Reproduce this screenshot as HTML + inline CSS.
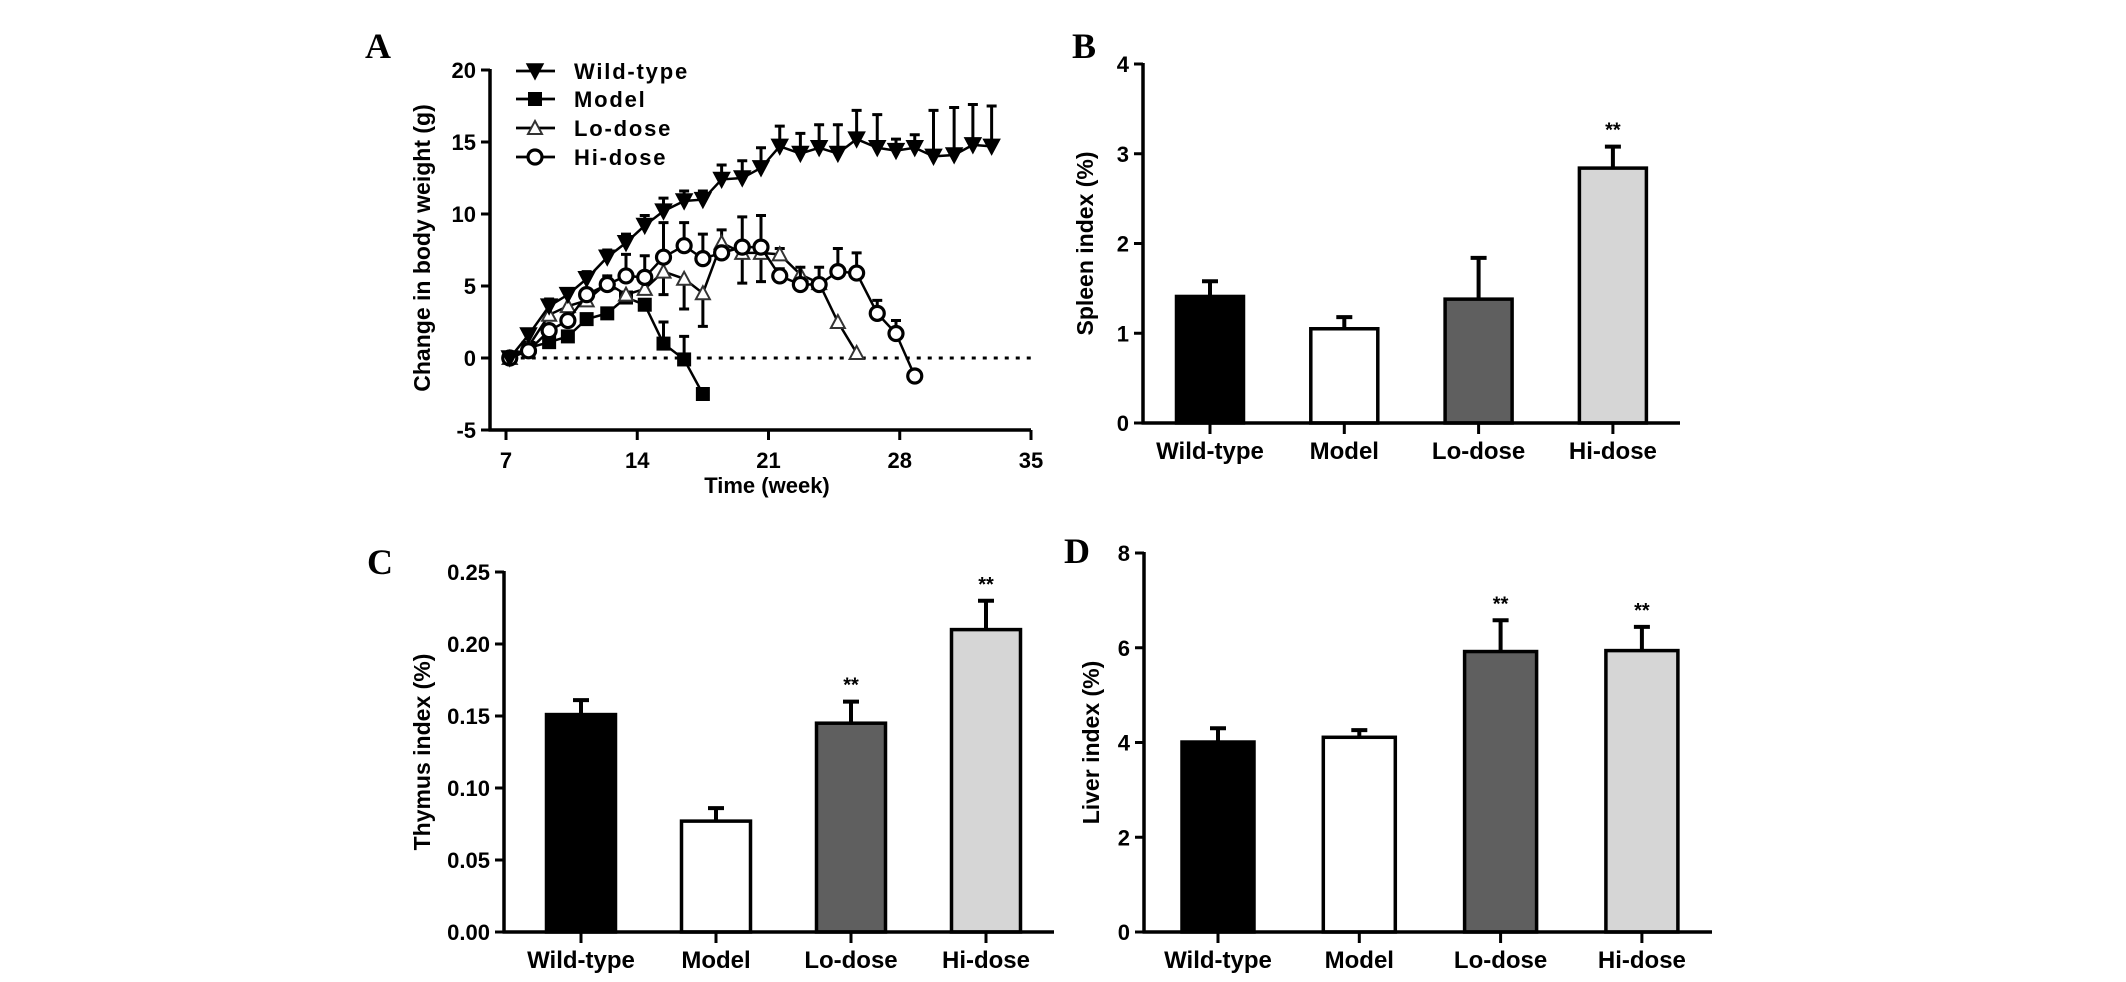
<!DOCTYPE html>
<html><head><meta charset="utf-8">
<style>
html,body{margin:0;padding:0;background:#fff;}
svg{display:block;}
text{font-family:"Liberation Sans",Arial,sans-serif;font-weight:bold;fill:#000;}
.panel-letter{font-family:"Liberation Serif",serif;font-size:36px;font-weight:bold;}
</style></head>
<body>
<svg id="fig" width="2126" height="982" viewBox="0 0 2126 982" xmlns="http://www.w3.org/2000/svg"></svg>
<script>
// ---------- Panel A data ----------
const weeksA = [7.2,8.2,9.3,10.3,11.3,12.4,13.4,14.4,15.4,16.5,17.5,18.5,19.6,20.6,21.6,22.7,23.7,24.7,25.7,26.8,27.8,28.8,29.8,30.9,31.9,32.9];
const wildValues = [0,1.6,3.6,4.4,5.5,7.0,8.0,9.2,10.2,10.9,11.0,12.4,12.5,13.2,14.7,14.2,14.6,14.2,15.2,14.6,14.4,14.6,14.0,14.1,14.8,14.7];
const wildErrUp = [0,0.3,0.5,0.4,0.5,0.5,0.6,0.7,0.9,0.7,0.6,1.0,1.2,1.4,1.4,1.4,1.6,2.0,2.0,2.3,0.8,0.9,3.2,3.3,2.8,2.8];
const modelValues = [0,0.7,1.1,1.5,2.7,3.1,4.2,3.7,1.0,-0.1,-2.5];
const modelErrUp = [0,0,0,0,0,0,0,0,1.5,1.6,0];
const loValues = [0,0.8,3.0,3.6,4.0,5.2,4.4,4.8,6.0,5.5,4.5,8.0,7.3,7.3,7.2,5.8,5.2,2.5,0.35];
const loErrDown = [0,0,0,0,0,0,0,0,1.6,2.1,2.3,0,2.1,2.0,0,0,0,0,0];
const loErrUp = [0,0,0,0,0,0,0,0,0,0,0,0.9,0,0,0.4,0,0,0,0];
const hiValues = [0,0.5,1.9,2.6,4.4,5.1,5.7,5.6,7.0,7.8,6.9,7.3,7.7,7.7,5.7,5.1,5.1,6.0,5.9,3.1,1.7,-1.25];
const hiErrUp = [0,0,0,0,0.3,0.6,1.5,1.5,2.4,1.6,1.7,0.3,2.1,2.2,0.5,1.2,1.2,1.6,1.4,0.9,0.9,0];
const yTicksA = [-5,0,5,10,15,20];
const xTicksA = [7,14,21,28,35];
const legendLabels = ["Wild-type","Model","Lo-dose","Hi-dose"];

// ---------- Bar panels data ----------
const categories = ["Wild-type","Model","Lo-dose","Hi-dose"];
const spleenValues = [1.41,1.05,1.38,2.84];
const spleenErr = [0.17,0.13,0.46,0.24];
const spleenStars = ["","","","**"];
const spleenTicks = [0,1,2,3,4];
const spleenTickLabels = ["0","1","2","3","4"];
const thymusValues = [0.151,0.077,0.145,0.210];
const thymusErr = [0.010,0.009,0.015,0.020];
const thymusStars = ["","","**","**"];
const thymusTicks = [0,0.05,0.10,0.15,0.20,0.25];
const thymusTickLabels = ["0.00","0.05","0.10","0.15","0.20","0.25"];
const liverValues = [4.01,4.11,5.92,5.94];
const liverErr = [0.29,0.15,0.66,0.50];
const liverStars = ["","","**","**"];
const liverTicks = [0,2,4,6,8];
const liverTickLabels = ["0","2","4","6","8"];

const NS = "http://www.w3.org/2000/svg";
const svg = document.getElementById("fig");
function mk(tag, attrs, parent, txt){
  const e = document.createElementNS(NS, tag);
  for (const k in attrs) e.setAttribute(k, attrs[k]);
  if (txt !== undefined) e.textContent = txt;
  (parent || svg).appendChild(e);
  return e;
}

// ================= PANEL A =================
const gA = mk("g", {});


const A = {x0:490, xRight:1031, wMin:7, wMax:35};
const xA = w => 506 + (w - A.wMin) * (1031 - 506) / (A.wMax - A.wMin);
const yA = v => 358 - v * 14.4;

let t = mk("text", {x:365, y:58, class:"panel-letter"}, gA, "A");



let ax = mk("line", {x1:A.x0, y1:yA(20)-1, x2:A.x0, y2:yA(-5)+1.5, stroke:"#000","stroke-width":3.5}, gA);


ax = mk("line", {x1:A.x0-1.5, y1:yA(-5), x2:A.xRight, y2:yA(-5), stroke:"#000","stroke-width":3.5}, gA);



yTicksA.forEach(v => {
  const tk = mk("line", {x1:A.x0-9, y1:yA(v), x2:A.x0, y2:yA(v), stroke:"#000","stroke-width":3}, gA);
  
  
  const lb = mk("text", {x:476, y:yA(v)+8, "text-anchor":"end", "font-size":22}, gA, String(v));
  
  
});
xTicksA.forEach(w => {
  const tk = mk("line", {x1:xA(w), y1:yA(-5), x2:xA(w), y2:yA(-5)+10, stroke:"#000","stroke-width":3}, gA);
  
  
  const lb = mk("text", {x:xA(w), y:468, "text-anchor":"middle", "font-size":22}, gA, String(w));
  
  
});
t = mk("text", {x:767, y:493, "text-anchor":"middle", "font-size":22}, gA, "Time (week)");


t = mk("text", {x:0, y:0, "text-anchor":"middle", "font-size":23, transform:"translate(430,248) rotate(-90)"}, gA, "Change in body weight (g)");



const zl = mk("line", {x1:xA(7.2), y1:yA(0), x2:A.xRight, y2:yA(0), stroke:"#000","stroke-width":3,"stroke-dasharray":"4 7"}, gA);



function marker(kind, cx, cy, parent){
  let m;
  if (kind === "down") m = mk("polygon", {points:`${cx-8},${cy-7} ${cx+8},${cy-7} ${cx},${cy+8}`, fill:"#000", stroke:"#000","stroke-width":1.5}, parent);
  else if (kind === "square") m = mk("rect", {x:cx-7, y:cy-7, width:14, height:14, fill:"#000"}, parent);
  else if (kind === "up") m = mk("polygon", {points:`${cx-7},${cy+6} ${cx+7},${cy+6} ${cx},${cy-7}`, fill:"#fff", stroke:"#333","stroke-width":2}, parent);
  else m = mk("circle", {cx:cx, cy:cy, r:7, fill:"#fff", stroke:"#000","stroke-width":3.2}, parent);
  return m;
}

function series(name, vals, kind, errUp, errDown){
  const g = mk("g", {}, gA);
  
  
  vals.forEach((v,i) => {
    const x = xA(weeksA[i]);
    if (errUp && errUp[i] > 0) {
      const e = mk("path", {d:`M${x},${yA(v)} V${yA(v+errUp[i])} M${x-5},${yA(v+errUp[i])} H${x+5}`, stroke:"#000","stroke-width":3, fill:"none"}, g);
      
      
    }
    if (errDown && errDown[i] > 0) {
      const e = mk("path", {d:`M${x},${yA(v)} V${yA(v-errDown[i])} M${x-5},${yA(v-errDown[i])} H${x+5}`, stroke:"#000","stroke-width":3, fill:"none"}, g);
      
      
    }
  });
  const pts = vals.map((v,i) => xA(weeksA[i]) + "," + yA(v)).join(" ");
  const ln = mk("polyline", {points:pts, fill:"none", stroke:"#000","stroke-width":2.5}, g);
  
  
  vals.forEach((v,i) => {
    const m = marker(kind, xA(weeksA[i]), yA(v), g);
    
    
  });
}
series("model", modelValues, "square", modelErrUp, null);
series("lo-dose", loValues, "up", loErrUp, loErrDown);
series("hi-dose", hiValues, "circle", hiErrUp, null);
series("wild-type", wildValues, "down", wildErrUp, null);

const kinds = ["down","square","up","circle"];
const legY = [71,99,128,157];
legendLabels.forEach((lab,i) => {
  const g = mk("g", {}, gA);
  
  
  mk("line", {x1:516, y1:legY[i], x2:555, y2:legY[i], stroke:"#000","stroke-width":2.8}, g);
  marker(kinds[i], 535, legY[i], g);
  const tx = mk("text", {x:574, y:legY[i]+8, "font-size":22, "letter-spacing":"1.8"}, g, lab);
  
  
});

// ================= BAR PANELS =================
const fills = ["#000000","#ffffff","#5f5f5f","#d6d6d6"];
function barPanel(cfg, vals, errs, stars, ticks, tickLabels){
  const g = mk("g", {});
  
  
  const y = v => cfg.y0 - v * (cfg.y0 - cfg.yTop) / cfg.max;
  let l = mk("text", {x:cfg.letterX, y:cfg.letterY, class:"panel-letter"}, g, cfg.letter);
  
  
  categories.forEach((c,i) => {
    const cx = cfg.c0 + i * cfg.step;
    const top = y(vals[i]), et = y(vals[i] + errs[i]);
    const e = mk("path", {d:`M${cx},${top} V${et} M${cx-8},${et} H${cx+8}`, stroke:"#000","stroke-width":4, fill:"none"}, g);
    
    
    const r = mk("rect", {x:cx - cfg.bw/2, y:top, width:cfg.bw, height:cfg.y0 - top, fill:fills[i], stroke:"#000","stroke-width":3.5}, g);
    
    
    if (stars[i]) {
      const s = mk("text", {x:cx, y:et - 10, "text-anchor":"middle", "font-size":20}, g, stars[i]);
      
      
    }
    const tk = mk("line", {x1:cx, y1:cfg.y0, x2:cx, y2:cfg.y0+11, stroke:"#000","stroke-width":3}, g);
    
    
    const lb = mk("text", {x:cx, y:cfg.labelY, "text-anchor":"middle", "font-size":24}, g, c);
    
    
  });
  let a = mk("line", {x1:cfg.ax, y1:cfg.yTop-1, x2:cfg.ax, y2:cfg.y0+1.5, stroke:"#000","stroke-width":3.5}, g);
  
  
  a = mk("line", {x1:cfg.ax-1.5, y1:cfg.y0, x2:cfg.xEnd, y2:cfg.y0, stroke:"#000","stroke-width":3.5}, g);
  
  
  ticks.forEach((v,i) => {
    const tk = mk("line", {x1:cfg.ax-9, y1:y(v), x2:cfg.ax, y2:y(v), stroke:"#000","stroke-width":3}, g);
    
    
    const lb = mk("text", {x:cfg.ax-14, y:y(v)+8, "text-anchor":"end", "font-size":22}, g, tickLabels[i]);
    
    
  });
  const tt = mk("text", {x:0, y:0, "text-anchor":"middle", "font-size":23, transform:`translate(${cfg.titleX},${(cfg.y0+cfg.yTop)/2}) rotate(-90)`}, g, cfg.title);
  
  
}

barPanel({name:"panel-b-spleen-chart", letter:"B", letterName:"panel-b-label", letterX:1072, letterY:58,
  ax:1143, y0:423, yTop:64, max:4, c0:1210, step:134.3, bw:67, xEnd:1680, labelY:459, titleX:1093, title:"Spleen index (%)"},
  spleenValues, spleenErr, spleenStars, spleenTicks, spleenTickLabels);
barPanel({name:"panel-c-thymus-chart", letter:"C", letterName:"panel-c-label", letterX:367, letterY:574,
  ax:504, y0:932, yTop:572, max:0.25, c0:581, step:135, bw:69, xEnd:1054, labelY:968, titleX:430, title:"Thymus index (%)"},
  thymusValues, thymusErr, thymusStars, thymusTicks, thymusTickLabels);
barPanel({name:"panel-d-liver-chart", letter:"D", letterName:"panel-d-label", letterX:1064, letterY:563,
  ax:1144, y0:932, yTop:553, max:8, c0:1218, step:141.3, bw:72, xEnd:1712, labelY:968, titleX:1099, title:"Liver index (%)"},
  liverValues, liverErr, liverStars, liverTicks, liverTickLabels);
</script>
</body></html>
